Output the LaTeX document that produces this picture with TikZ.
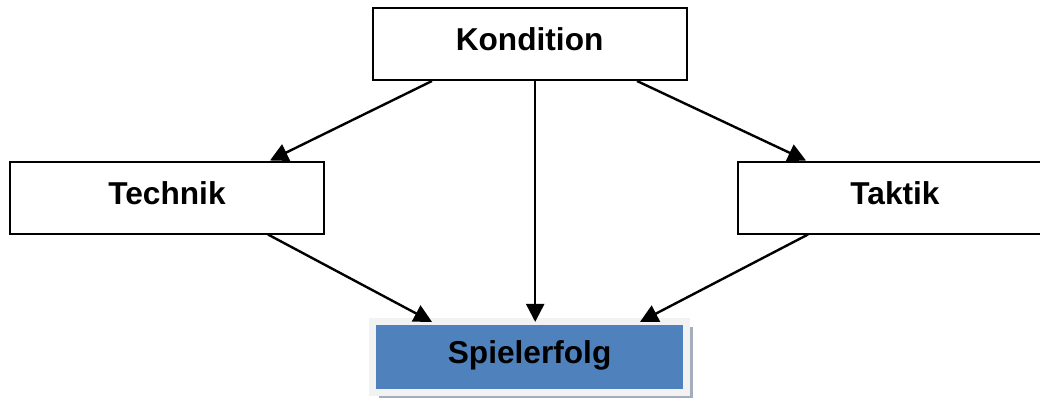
\documentclass[tikz,border=0pt]{standalone}
\usepackage{fontspec}
\setmainfont{Liberation Sans}
\usetikzlibrary{arrows.meta,shadows}
\definecolor{erfolgblau}{HTML}{4F81BD}
\definecolor{rahmengrau}{HTML}{F2F2F2}
\definecolor{schattengrau}{HTML}{A5ADBD}

\begin{document}
\begin{tikzpicture}[
  kasten/.style={draw=black, line width=0.05cm, fill=white, inner sep=0pt,
    minimum width=7.85cm, minimum height=1.8cm,
    text height=0.575cm, text depth=0.225cm,
    font=\fontsize{22.5}{27}\selectfont\bfseries},
  pfeil/.style={-{Triangle[length=0.45cm,width=0.45cm]}, line width=0.06cm}]
  \useasboundingbox (0,0) rectangle (26,9.95);
  \clip (0,0) rectangle (26,9.95);

  \node[kasten] (kond) at (13.24,8.85) {Kondition};
  \node[kasten] (tech) at (4.175,5.0125) {Technik};
  \node[kasten] (takt) at (22.375,5.0125) {Taktik};
  \node[kasten, fill=erfolgblau, draw=rahmengrau, line width=0.175cm,
    minimum height=1.775cm,
    drop shadow={shadow xshift=0.15cm, shadow yshift=-0.15cm,
      fill=schattengrau, opacity=1}] (erfolg) at (13.24,1.0375) {Spielerfolg};

  \draw[pfeil] ([xshift=-2.44cm]kond.south) -- ([xshift=2.575cm]tech.north);
  \draw[pfeil] ([xshift=2.685cm]kond.south) -- ([xshift=-2.225cm]takt.north);
  \draw[pfeil] ([xshift=0.14cm]kond.south) -- ([xshift=0.14cm,yshift=-0.11cm]erfolg.north);
  \draw[pfeil] ([xshift=2.525cm]tech.south) -- ([xshift=-2.44cm,yshift=-0.11cm]erfolg.north);
  \draw[pfeil] ([xshift=-2.175cm]takt.south) -- ([xshift=2.76cm,yshift=-0.11cm]erfolg.north);
\end{tikzpicture}
\end{document}
